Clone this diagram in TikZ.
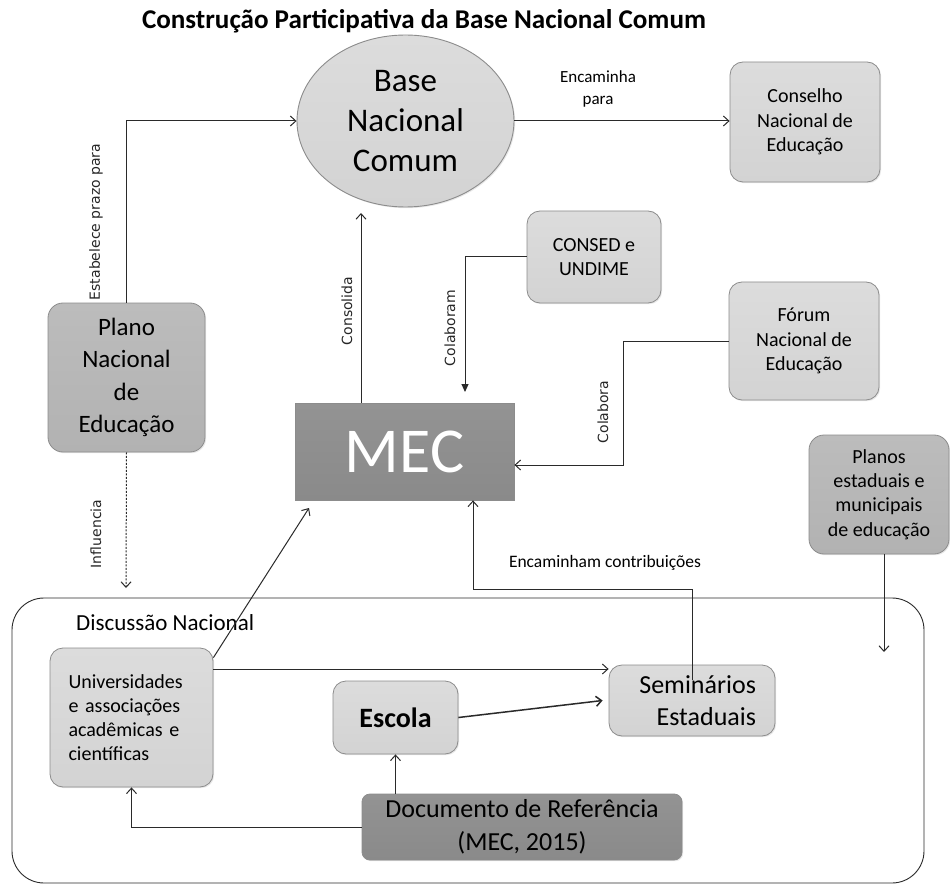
\documentclass[tikz,border=0pt]{standalone}
\usepackage{fontspec}
\usepackage{graphicx}
\setmainfont{Carlito}
\newfontfamily\lblfont{DejaVu Sans}
\usetikzlibrary{arrows.meta,shapes.geometric,shadows}
\definecolor{boxlight}{HTML}{D3D3D3}
\definecolor{boxlighttop}{HTML}{DCDCDC}
\definecolor{boxmid}{HTML}{B2B2B2}
\definecolor{boxmidtop}{HTML}{BCBCBC}
\definecolor{boxdark}{HTML}{8A8A8A}
\definecolor{boxdarktop}{HTML}{939393}
\definecolor{edgegray}{HTML}{8C8C8C}
\definecolor{linecol}{HTML}{2A2A2A}
\tikzset{
  softshadow/.style={drop shadow={opacity=0.18, shadow xshift=1.2pt, shadow yshift=-1.2pt}},
  lightbox/.style={rectangle, rounded corners=13pt, draw=edgegray, line width=0.8pt,
    top color=boxlighttop, bottom color=boxlight, inner sep=0pt, align=center, softshadow},
  midbox/.style={rectangle, rounded corners=15pt, draw=edgegray, line width=0.8pt,
    top color=boxmidtop, bottom color=boxmid, inner sep=0pt, align=center, softshadow},
  darkbox/.style={rectangle, draw=edgegray, line width=0.8pt,
    top color=boxdarktop, bottom color=boxdark, inner sep=0pt, align=center, softshadow},
  conn/.style={draw=linecol, line width=1pt},
  openarrow/.style={conn, -{Straight Barb[length=5.5pt,width=10pt]}},
  fillarrow/.style={conn, -{Triangle[length=8pt,width=7pt]}},
  rotlbl/.style={rotate=90, font=\lblfont\fontsize{14}{16}\selectfont, text=black!85, inner sep=0pt},
  smalltxt/.style={font=\fontsize{20}{24.5}\selectfont},
}
\begin{document}
\begin{tikzpicture}[x=1pt,y=-1pt]
\useasboundingbox (0,0) rectangle (950,885);
\fill[white] (0,0) rectangle (950,885);

% title
\node[inner sep=0pt] (title) at (424,21)
  {\resizebox{564pt}{!}{\fontsize{22}{26}\selectfont\bfseries Construção Participativa da Base Nacional Comum}};

% discussion frame
\draw[draw=linecol, line width=0.9pt, rounded corners=32pt] (12,598) rectangle (924,883);
\node[anchor=west, font=\fontsize{23}{27}\selectfont, inner sep=0pt] (disc) at (76,623) {Discussão Nacional};

% nodes
\node[ellipse, draw=edgegray, line width=0.9pt, top color=boxlighttop, bottom color=boxlight,
      minimum width=217pt, minimum height=172pt, inner sep=0pt, align=center, softshadow,
      font=\fontsize{33}{40}\selectfont] (base) at (405.5,121) {Base\\Nacional\\Comum};
\node[lightbox, smalltxt, minimum width=150pt, minimum height=120pt] (cons) at (805,122)
  {Conselho\\Nacional de\\Educação};
\node[lightbox, smalltxt, minimum width=134pt, minimum height=92pt, font=\fontsize{20}{23.5}\selectfont] (consed) at (594,257)
  {CONSED e\\UNDIME};
\node[lightbox, smalltxt, minimum width=150pt, minimum height=118pt] (forum) at (804,341)
  {Fórum\\Nacional de\\Educação};
\node[darkbox, minimum width=219pt, minimum height=97pt, text=white,
      font=\fontsize{64}{70}\selectfont] (mec) at (404.5,451.5) {MEC};
\node[midbox, minimum width=157pt, minimum height=149pt, font=\fontsize{25}{32.5}\selectfont] (plano) at (126.5,377.5)
  {Plano\\Nacional\\de\\Educação};
\node[midbox, smalltxt, minimum width=140pt, minimum height=119pt, font=\fontsize{20}{24.3}\selectfont] (planos) at (879,494.5)
  {Planos\\estaduais e\\municipais\\de educação};
\node[lightbox, minimum width=163pt, minimum height=139pt, text width=126pt, align=left,
      font=\fontsize{20}{24}\selectfont] (univ) at (131.5,717.5)
  {Universidades\\e associações\\acadêmicas e\\científicas};
\node[lightbox, minimum width=125pt, minimum height=73pt, font=\fontsize{28}{32}\selectfont\bfseries] (escola) at (395.5,717.5)
  {Escola};
\node[lightbox, minimum width=166pt, minimum height=71pt, text width=128pt, align=right,
      font=\fontsize{26}{32}\selectfont] (sem) at (692,700.5)
  {Seminários\\Estaduais};
\node[darkbox, rounded corners=8pt, minimum width=320pt, minimum height=66pt,
      font=\fontsize{26}{33}\selectfont] (doc) at (522,827)
  {Documento de Referência\\(MEC, 2015)};

% free-end coordinates
\coordinate (cA) at (361,213);
\coordinate (cB) at (465,392);
\coordinate (cC) at (623,465);
\coordinate (cD) at (126,588);
\coordinate (cE) at (884,652);
\coordinate (cF) at (692,589);
\coordinate (cG) at (473,589);
\coordinate (cH) at (309,508);

% connectors
\draw[openarrow] (plano.north) |- (base.west);
\draw[openarrow] (base.east) -- (base.east -| cons.west);
\draw[openarrow] (mec.north -| cA) -- (cA);
\draw[fillarrow] (consed.west) -| (cB);
\draw[openarrow] (forum.west) -| (cC) -- (cC -| mec.east);
\draw[openarrow, dash pattern=on 2pt off 1.5pt] (plano.south) -- (cD);
\draw[openarrow] (planos.south -| cE) -- (cE);
\draw[openarrow] ([yshift=-15pt]sem.north -| cF) -- (cF) -- (cG) -- (cG |- mec.south);
\draw[openarrow] ([yshift=-10pt]univ.north east) -- (cH);
\draw[openarrow] ([yshift=48.5pt]univ.east) -- ([yshift=48.5pt]univ.east -| sem.west);
\draw[openarrow, line width=1.5pt] (escola.east) -- ([xshift=-6pt]sem.west);
\draw[openarrow] (doc.north -| escola.south) -- (escola.south);
\draw[openarrow] (doc.west) -| (univ.south);

% labels
\node[rotlbl] (lEst) at (96,222) {Estabelece prazo para};
\node[align=center, font=\fontsize{17}{22}\selectfont, inner sep=0pt] (lEnc) at (598,89) {Encaminha\\para};
\node[rotlbl] (lCons) at (347,311) {Consolida};
\node[rotlbl] (lColm) at (450,328) {Colaboram};
\node[rotlbl] (lCol) at (603,412) {Colabora};
\node[rotlbl] (lInf) at (96,534) {Influencia};
\node[font=\fontsize{17.5}{20}\selectfont, inner sep=0pt] (lContr) at (605,563) {Encaminham contribuições};
\end{tikzpicture}
\end{document}
